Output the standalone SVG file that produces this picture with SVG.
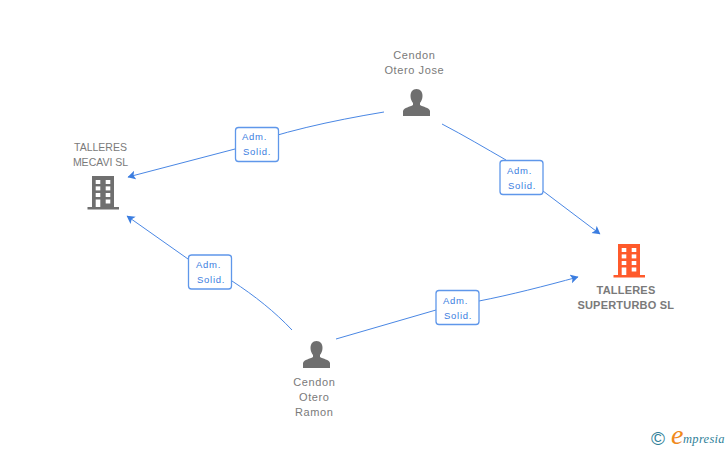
<svg xmlns="http://www.w3.org/2000/svg" xmlns:xlink="http://www.w3.org/1999/xlink" width="728" height="450" viewBox="0 0 728 450">
<style>
text{font-family:"Liberation Sans",Arial,sans-serif;text-anchor:middle}
.n{font-size:11px;fill:#7a7a7a;letter-spacing:.6px}
.t{font-size:10.500px;fill:#7a7a7a}
.b{font-size:11px;font-weight:bold;fill:#7a7a7a;letter-spacing:.2px}
.l{font-size:9.500px;fill:#3b7de0;letter-spacing:.75px;text-anchor:start}
.c{fill:none;stroke:#4a87e4;stroke-width:1;marker-end:url(#a)}
.box{fill:#fff;stroke:#5f97ea;stroke-width:1.300}
.p{fill:#6f6f6f}
.w{fill:#fff}
.lg{font-size:12.500px;font-style:italic;fill:#2f7f99;font-family:"Liberation Serif",serif;letter-spacing:.3px;text-anchor:start}
</style>
<defs>
<marker id="a" markerUnits="userSpaceOnUse" markerWidth="10" markerHeight="10" refX="7.500" refY="4.500" orient="auto">
<path d="M0 0L8 4.500L0 9L1.800 4.500Z" fill="#3b7de0"/>
</marker>
<g id="bld">
<path d="M4.500 0H26.500V31H31.500V33.500H0V31H4.500Z"/>
<g class="w">
<rect x="8.200" y="4" width="4.600" height="4"/><rect x="18.200" y="4" width="4.600" height="4"/>
<rect x="8.200" y="10.400" width="4.600" height="4"/><rect x="18.200" y="10.400" width="4.600" height="4"/>
<rect x="8.200" y="17" width="4.600" height="4"/><rect x="18.200" y="17" width="4.600" height="4"/>
<rect x="8.200" y="23.500" width="4.600" height="7.500"/><rect x="18.200" y="23.500" width="4.600" height="4"/>
</g>
</g>
<path id="per" class="p" d="M13.500 0C9.500 0 7.500 3 7.500 7C7.500 10 8.800 12.500 10 14V16C7 18 1 18.500 0 22V27H27V22C26 18.500 20 18 17 16V14C18.200 12.500 19.500 10 19.500 7C19.500 3 17.500 0 13.500 0Z"/>
</defs>
<rect width="728" height="450" fill="#fff"/>
<g id="connectors">
<path class="c" d="M384 112C330 121 280 132 235 149L128 177"/>
<path class="c" d="M442 124C465 136 485 148 506 160M543 191L600 234"/>
<path class="c" d="M292 330C275 312 255 296 232 281M188 259L127 216"/>
<path class="c" d="M336 339L436 310M479 301C510 295 545 286 578 277"/>
</g>
<g id="label-1"><rect class="box" x="235.500" y="127.500" width="43" height="34" rx="3"/><text class="l" x="242" y="140">Adm.</text><text class="l" x="243" y="155">Solid.</text></g>
<g id="label-2"><rect class="box" x="500" y="160.500" width="43" height="34" rx="3"/><text class="l" x="507" y="174">Adm.</text><text class="l" x="508" y="189">Solid.</text></g>
<g id="label-3"><rect class="box" x="188.500" y="255" width="43" height="34" rx="3"/><text class="l" x="196" y="268">Adm.</text><text class="l" x="197" y="283">Solid.</text></g>
<g id="label-4"><rect class="box" x="436" y="290.500" width="43" height="34" rx="3"/><text class="l" x="443" y="304">Adm.</text><text class="l" x="444" y="319">Solid.</text></g>
<g id="node-mecavi">
<use xlink:href="#bld" href="#bld" x="87.500" y="176" fill="#6f6f6f"/>
<text class="t" x="100.500" y="151">TALLERES</text><text class="t" x="100.500" y="166">MECAVI SL</text>
</g>
<g id="node-superturbo">
<use xlink:href="#bld" href="#bld" x="613.500" y="244" fill="#ff5a2b"/>
<text class="b" x="626" y="294">TALLERES</text><text class="b" x="625.800" y="308.500">SUPERTURBO SL</text>
</g>
<g id="node-jose">
<use xlink:href="#per" href="#per" x="403" y="89"/>
<text class="n" x="414.300" y="59">Cendon</text><text class="n" x="414.300" y="74">Otero Jose</text>
</g>
<g id="node-ramon">
<use xlink:href="#per" href="#per" x="303" y="341"/>
<text class="n" x="314.300" y="386">Cendon</text><text class="n" x="314.300" y="401">Otero</text><text class="n" x="314.300" y="416">Ramon</text>
</g>
<g id="logo">
<text x="658" y="445" style="font-size:19px;fill:#2f7f99">©</text>
<text x="671" y="444" style="font-size:28px;font-style:italic;fill:#f08a1c;font-family:'Liberation Serif',serif;text-anchor:start">e</text>
<text class="lg" x="683" y="443">mpresia</text>
</g>
</svg>
